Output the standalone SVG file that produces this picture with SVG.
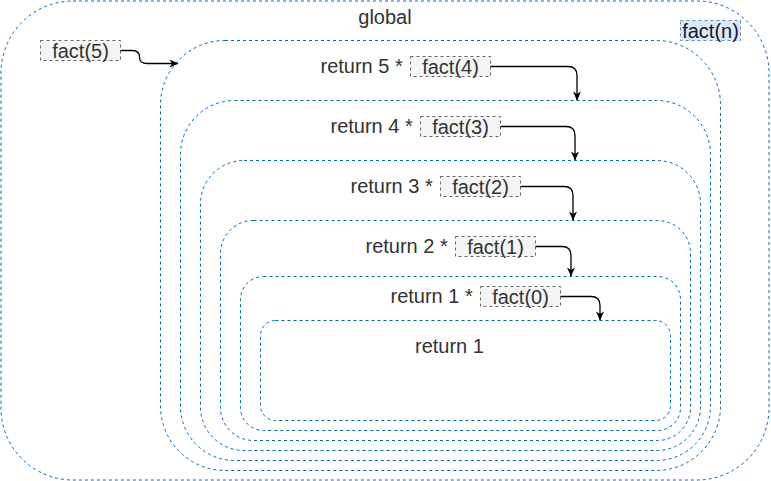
<svg xmlns="http://www.w3.org/2000/svg" width="771" height="481" viewBox="0 0 771 481">
<style>
.frame{fill:none;stroke:#0066CC;stroke-width:1;stroke-dasharray:3 3}
.call{fill:#f5f5f5;stroke:#666666;stroke-width:1;stroke-dasharray:3 3}
.fn{fill:#dae8fc;stroke:#6c8ebf;stroke-width:1;stroke-dasharray:3 3}
.t{font-family:"Liberation Sans",Arial,Helvetica,sans-serif;font-size:20px;fill:#333333}
.c{text-anchor:middle}
.edge{fill:none;stroke:#000000;stroke-width:1.3}
</style>
<defs>
<marker id="arrow" markerUnits="userSpaceOnUse" markerWidth="10" markerHeight="10" viewBox="0 0 10 10" refX="9.5" refY="5" orient="auto">
<path d="M1,1 L10,5 L1,9 L3.5,5 z" fill="#000000"/>
</marker>
</defs>
<g id="global">
<rect class="frame" x="1" y="1" width="768" height="479" rx="72" ry="72"/>
<text class="t c" x="385" y="24">global</text>
</g>
<g id="fact-n">
<rect class="fn" x="680.5" y="20.5" width="60" height="20"/>
<text class="t c" x="710.5" y="38" style="fill:#1a1a1a">fact(n)</text>
</g>
<g id="call-fact5">
<rect class="call" x="40.5" y="40.5" width="80" height="20"/>
<text class="t c" x="80.5" y="58">fact(5)</text>
</g>
<g id="frame-fact5">
<rect class="frame" x="160.5" y="40.5" width="560" height="430" rx="64.5" ry="64.5"/>
<text class="t" x="320.5" y="73">return 5 *</text>
<rect class="call" x="410.5" y="56.5" width="80" height="20"/>
<text class="t c" x="450.5" y="73.5">fact(4)</text>
</g>
<g id="frame-fact4">
<rect class="frame" x="180.5" y="100.5" width="530" height="360" rx="54" ry="54"/>
<text class="t" x="330.5" y="133">return 4 *</text>
<rect class="call" x="420.5" y="116.5" width="80" height="20"/>
<text class="t c" x="460.5" y="133.5">fact(3)</text>
</g>
<g id="frame-fact3">
<rect class="frame" x="200.5" y="160.5" width="500" height="290" rx="43.5" ry="43.5"/>
<text class="t" x="350.5" y="193">return 3 *</text>
<rect class="call" x="440.5" y="176.5" width="80" height="20"/>
<text class="t c" x="480.5" y="193.5">fact(2)</text>
</g>
<g id="frame-fact2">
<rect class="frame" x="220.5" y="220.5" width="470" height="220" rx="33" ry="33"/>
<text class="t" x="365.5" y="253">return 2 *</text>
<rect class="call" x="455.5" y="236.5" width="80" height="20"/>
<text class="t c" x="495.5" y="253.5">fact(1)</text>
</g>
<g id="frame-fact1">
<rect class="frame" x="240.5" y="276.5" width="440" height="154" rx="23" ry="23"/>
<text class="t" x="390.5" y="303">return 1 *</text>
<rect class="call" x="480.5" y="286.5" width="80" height="20"/>
<text class="t c" x="520.5" y="303.5">fact(0)</text>
</g>
<g id="frame-fact0">
<rect class="frame" x="260.5" y="320.5" width="410" height="100" rx="15" ry="15"/>
<text class="t" x="415" y="353">return 1</text>
</g>
<g id="connectors">
<path class="edge" marker-end="url(#arrow)" d="M120.5,50.5 L132,50.5 Q139.5,50.5 139.5,57 Q139.5,63.5 147,63.5 L178,63.5"/>
<path class="edge" marker-end="url(#arrow)" d="M490.5,66.5 L568,66.5 Q577,66.5 577,75.5 L577,100"/>
<path class="edge" marker-end="url(#arrow)" d="M500.5,126.5 L566,126.5 Q575,126.5 575,135.5 L575,160"/>
<path class="edge" marker-end="url(#arrow)" d="M520.5,186.5 L564,186.5 Q573,186.5 573,195.5 L573,220"/>
<path class="edge" marker-end="url(#arrow)" d="M535.5,246.5 L562,246.5 Q571,246.5 571,255.5 L571,276"/>
<path class="edge" marker-end="url(#arrow)" d="M560.5,296.5 L591,296.5 Q600,296.5 600,305.5 L600,320"/>
</g>
</svg>
